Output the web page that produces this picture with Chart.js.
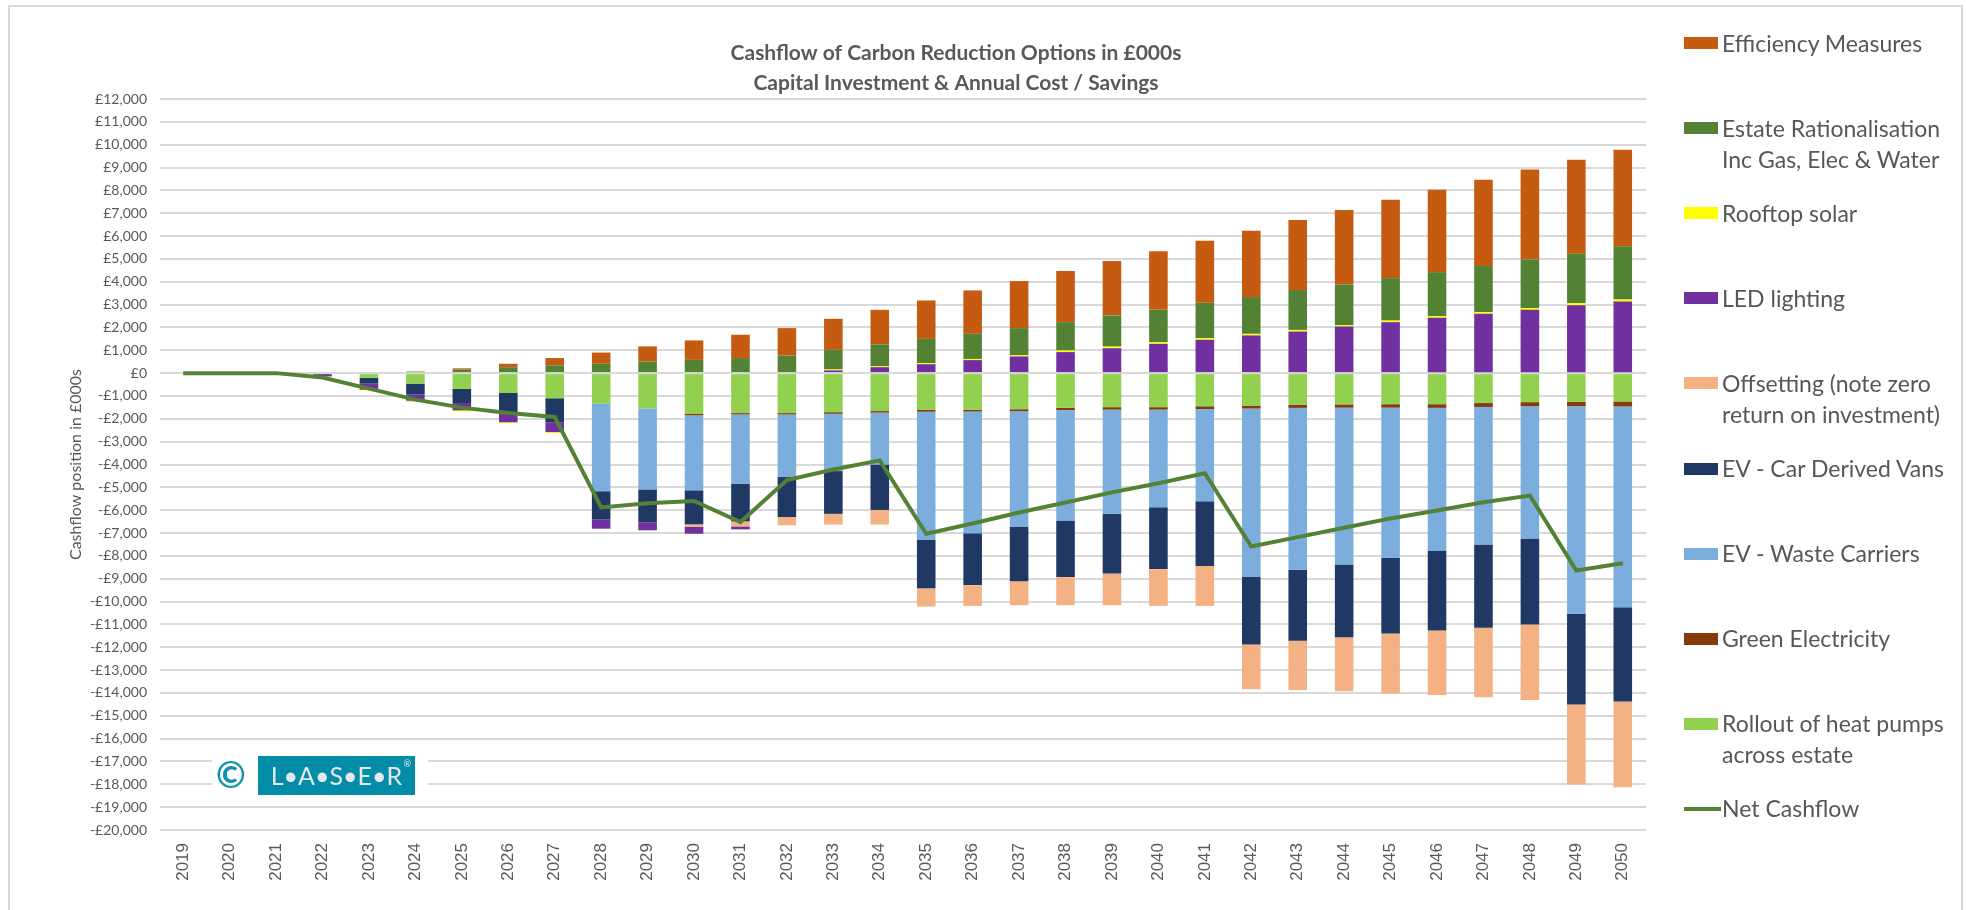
<!DOCTYPE html>
<html>
<head>
<meta charset="utf-8">
<script src="https://cdn.jsdelivr.net/npm/chart.js@4.4.1/dist/chart.umd.min.js"></script>
<style>
  html, body { margin: 0; padding: 0; background: #fff; }
  #wrap { position: relative; width: 1966px; height: 910px; overflow: hidden; font-family: Lato, "Open Sans", sans-serif; }
  #frame { position: absolute; left: 8px; top: 5px; width: 1951px; height: 930px; border: 2px solid #d9d9d9; pointer-events: none; }
  #legend { position: absolute; left: 0; top: 0; }
  .lg-item { position: absolute; left: 1684px; }
  .lg-box { position: absolute; left: 0; width: 34px; height: 12px; }
  .lg-line { position: absolute; left: 0; width: 37px; height: 4px; }
  .lg-text { position: absolute; left: 38px; white-space: nowrap; font-size: 23px; line-height: 31px; color: #575757; }
  #logo { position: absolute; left: 212px; top: 749px; width: 216px; height: 52px; background: #fff; }
  #logo .copy { position: absolute; left: 4px; top: 3px; font-size: 36px; font-weight: bold; color: #0f93ab; line-height: 44px; }
  #logo .box { position: absolute; left: 46px; top: 7px; width: 157px; height: 39px; background: #028ca7; color: #e4e8ea; font-size: 25px; line-height: 39px; text-align: center; }
  #logo .reg { position: absolute; right: 4px; top: -12px; font-size: 9px; }
</style>
</head>
<body>
<div id="wrap">
  <canvas id="chart"></canvas>
  <div id="frame"></div>
  <div id="legend"></div>
  <div id="logo"><span class="copy">©</span><div class="box">L•A•S•E•R<span class="reg">®</span></div></div>
</div>
<script>
// values in £000s
const years = ["2019", "2020", "2021", "2022", "2023", "2024", "2025", "2026", "2027", "2028",
  "2029", "2030", "2031", "2032", "2033", "2034", "2035", "2036", "2037", "2038",
  "2039", "2040", "2041", "2042", "2043", "2044", "2045", "2046", "2047", "2048", "2049", "2050"];

const heatPumps = [0, 0, 0, 0, -200, -460, -690, -870, -1100, -1340,
  -1550, -1790, -1750, -1750, -1710, -1660, -1610, -1600, -1580, -1520,
  -1490, -1490, -1450, -1420, -1390, -1370, -1360, -1360, -1310, -1270, -1260, -1240];

const greenElec = [0, 0, 0, 0, 0, 0, 0, 0, 0, 0,
  0, -60, -60, -60, -70, -70, -80, -80, -90, -100,
  -110, -110, -120, -130, -130, -140, -150, -160, -170, -180, -190, -220];

const wasteCarriers = [0, 0, 0, 0, 0, 0, 0, 0, 0, -3830,
  -3540, -3280, -3030, -2740, -2510, -2270, -5610, -5330, -5070, -4830,
  -4560, -4270, -4040, -7380, -7090, -6870, -6580, -6250, -6020, -5790, -9090, -8790];

const carVans = [0, 0, 0, 0, -260, -470, -620, -900, -1050, -1240,
  -1440, -1490, -1650, -1750, -1870, -1990, -2120, -2270, -2370, -2480,
  -2610, -2710, -2830, -2950, -3100, -3180, -3310, -3500, -3650, -3760, -3970, -4120];

const offsetting = [0, 0, 0, 0, 0, 0, 0, 0, 0, 0,
  0, -110, -220, -360, -470, -640, -800, -910, -1050, -1230,
  -1390, -1610, -1750, -1960, -2160, -2370, -2620, -2820, -3040, -3310, -3500, -3760];

const ledLighting = [0, 0, 0, -130, -230, -260, -320, -380, -430, -400,
  -350, -300, -130, 0, 120, 260, 390, 570, 730, 920,
  1090, 1280, 1460, 1650, 1820, 2040, 2230, 2420, 2600, 2770, 2970, 3130];

const rooftopSolar = [0, 0, 0, 0, 0, 0, -50, -40, -50, 0,
  0, 0, 0, 0, 40, 40, 50, 50, 50, 70,
  70, 70, 70, 70, 70, 60, 70, 70, 70, 80, 90, 90];

const estateRational = [0, 0, 0, 0, 0, 70, 150, 260, 340, 410,
  510, 580, 660, 770, 860, 960, 1060, 1100, 1190, 1240,
  1370, 1420, 1550, 1610, 1750, 1780, 1860, 1930, 2020, 2130, 2170, 2330];

const efficiency = [0, 0, 0, -20, -50, -40, 60, 150, 320, 490,
  660, 850, 1020, 1200, 1360, 1510, 1680, 1900, 2060, 2240,
  2380, 2570, 2720, 2900, 3060, 3260, 3430, 3610, 3780, 3930, 4110, 4230];

const netCashflow = [0, 0, 0, -190, -680, -1160, -1510, -1750, -1920, -5880,
  -5700, -5600, -6520, -4680, -4220, -3820, -7030, -6580, -6100, -5660,
  -5220, -4820, -4380, -7590, -7180, -6770, -6360, -6010, -5650, -5360, -8640, -8320];

const titleLines = ["Cashflow of Carbon Reduction Options in £000s", "Capital Investment & Annual Cost / Savings"];
const yTitle = "Cashflow position in £000s";

// stacking order (first = nearest zero)
const barSeries = [
  { label: "Rollout of heat pumps across estate", data: heatPumps, color: "#92D050" },
  { label: "Green Electricity", data: greenElec, color: "#843C0C" },
  { label: "EV - Waste Carriers", data: wasteCarriers, color: "#7BAEDD" },
  { label: "EV - Car Derived Vans", data: carVans, color: "#203864" },
  { label: "Offsetting (note zero return on investment)", data: offsetting, color: "#F4B183" },
  { label: "LED lighting", data: ledLighting, color: "#7030A0" },
  { label: "Rooftop solar", data: rooftopSolar, color: "#FFFF00" },
  { label: "Estate Rationalisation Inc Gas, Elec & Water", data: estateRational, color: "#548235" },
  { label: "Efficiency Measures", data: efficiency, color: "#C55A11" }
];
const lineColor = "#548235";

// legend (top to bottom), with the line breaks used in the picture
const legendItems = [
  { lines: ["Efficiency Measures"], color: "#C55A11" },
  { lines: ["Estate Rationalisation", "Inc Gas, Elec & Water"], color: "#548235" },
  { lines: ["Rooftop solar"], color: "#FFFF00" },
  { lines: ["LED lighting"], color: "#7030A0" },
  { lines: ["Offsetting (note zero", "return on investment)"], color: "#F4B183" },
  { lines: ["EV - Car Derived Vans"], color: "#203864" },
  { lines: ["EV - Waste Carriers"], color: "#7BAEDD" },
  { lines: ["Green Electricity"], color: "#843C0C" },
  { lines: ["Rollout of heat pumps", "across estate"], color: "#92D050" },
  { lines: ["Net Cashflow"], color: lineColor, isLine: true }
];

const legendEl = document.getElementById("legend");
legendItems.forEach((item, i) => {
  const centre = 43 + i * 85.1;
  const el = document.createElement("div");
  el.className = "lg-item";
  el.style.top = centre + "px";
  const mark = document.createElement("div");
  mark.className = item.isLine ? "lg-line" : "lg-box";
  mark.style.background = item.color;
  mark.style.top = (item.isLine ? -2 : -6) + "px";
  const txt = document.createElement("div");
  txt.className = "lg-text";
  txt.style.top = "-15.5px";
  txt.innerHTML = item.lines.map((l) => l.replace(/&/g, "&amp;")).join("<br>");
  el.appendChild(mark);
  el.appendChild(txt);
  legendEl.appendChild(el);
});

const textColor = "#595959";
Chart.defaults.font.family = "Lato, 'Open Sans', sans-serif";
Chart.defaults.color = textColor;

const formatMoney = (v) => {
  const s = Math.abs(v).toLocaleString("en-GB");
  return v < 0 ? "-£" + s : "£" + s;
};

const datasets = barSeries.map((s) => ({
  type: "bar",
  label: s.label,
  data: s.data,
  backgroundColor: s.color,
  borderWidth: 0,
  stack: "main",
  order: 1,
  barPercentage: 0.4,
  categoryPercentage: 1.0
}));

datasets.push({
  type: "line",
  label: "Net Cashflow",
  data: netCashflow,
  borderColor: lineColor,
  backgroundColor: lineColor,
  borderWidth: 4,
  pointRadius: 0,
  tension: 0,
  fill: false,
  stack: "net",
  order: 0
});

new Chart(document.getElementById("chart"), {
  data: { labels: years, datasets },
  options: {
    responsive: true,
    maintainAspectRatio: false,
    animation: false,
    layout: { padding: { left: 0, right: 54, top: 0, bottom: 0 } },
    plugins: {
      legend: { display: false },
      tooltip: { enabled: false },
      title: {
        display: true,
        text: titleLines,
        color: textColor,
        font: { size: 21, weight: "bold", lineHeight: 30 / 21 },
        padding: { top: 38, bottom: 1 }
      }
    },
    scales: {
      x: {
        stacked: true,
        grid: { display: false, drawTicks: false },
        border: { display: false },
        ticks: {
          autoSkip: false,
          maxRotation: 90,
          minRotation: 90,
          padding: 13,
          color: textColor,
          font: { family: "'Liberation Sans', Arial, sans-serif", size: 17 }
        },
        afterFit: (s) => { s.height = 80; }
      },
      y: {
        stacked: true,
        min: -20000,
        max: 12000,
        grid: { color: "#d9d9d9", lineWidth: 2, drawTicks: false },
        border: { display: false },
        ticks: {
          stepSize: 1000,
          autoSkip: false,
          padding: 13,
          color: textColor,
          font: { size: 14 },
          callback: (v) => formatMoney(v)
        },
        title: {
          display: true,
          text: yTitle,
          color: textColor,
          font: { size: 16 },
          padding: { top: 66, bottom: 0 }
        },
        afterFit: (s) => { s.width = 160; }
      },
      side: {
        type: "linear",
        position: "right",
        display: true,
        grid: { display: false, drawTicks: false },
        border: { display: false },
        ticks: { display: false },
        afterFit: (s) => { s.width = 266; }
      }
    }
  }
});
</script>
</body>
</html>
